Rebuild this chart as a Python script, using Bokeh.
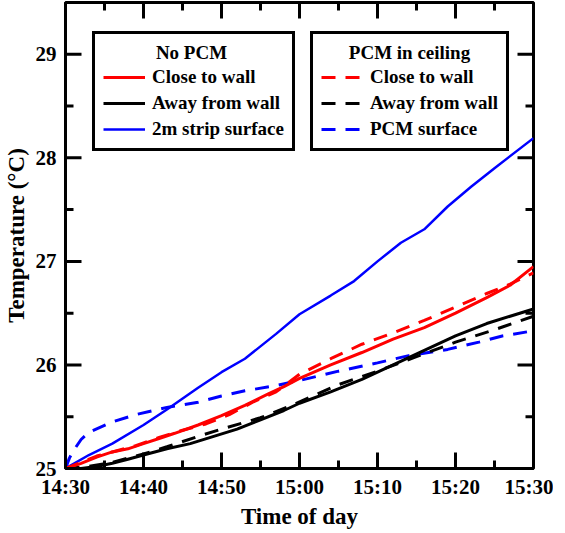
from bokeh.plotting import figure
from bokeh.models import Range1d, FixedTicker, Legend, LegendItem, Label
from bokeh.embed import file_html
from bokeh.resources import INLINE

# ---- data (minutes after 14:30, temperature in deg C) ----
tick_minutes = [0, 10, 20, 30, 40, 50, 60]
tick_labels = ["14:30", "14:40", "14:50", "15:00", "15:10", "15:20", "15:30"]
minor_minutes = [5, 15, 25, 35, 45, 55]
y_ticks = [25, 26, 27, 28, 29]
y_minor = [25.5, 26.5, 27.5, 28.5]

# No PCM
close_nopcm_t = [0, 2, 4, 6, 8, 10, 12, 14, 17, 20, 23, 26, 28, 30, 34, 38, 42, 46, 50, 54, 57, 60]
close_nopcm_v = [25.0, 25.05, 25.11, 25.16, 25.19, 25.24, 25.29, 25.34, 25.42, 25.51, 25.61, 25.72,
                 25.79, 25.87, 26.00, 26.12, 26.25, 26.36, 26.50, 26.65, 26.77, 26.95]
away_nopcm_t = [0, 2, 4, 6, 8, 10, 13, 16, 19, 22, 25, 28, 30, 34, 38, 42, 46, 50, 54, 57, 60]
away_nopcm_v = [25.0, 25.0, 25.02, 25.05, 25.09, 25.13, 25.19, 25.24, 25.31, 25.38, 25.47, 25.56,
                25.63, 25.74, 25.86, 26.00, 26.14, 26.28, 26.40, 26.47, 26.54]
strip_t = [0, 3, 6, 10, 13, 17, 20, 23, 27, 30, 34, 37, 40, 43, 46, 49, 52, 55, 60]
strip_v = [25.0, 25.13, 25.24, 25.42, 25.57, 25.78, 25.93, 26.06, 26.30, 26.49, 26.67, 26.81,
           27.00, 27.18, 27.31, 27.53, 27.72, 27.90, 28.19]

# PCM in ceiling
close_pcm_t = [0, 2, 4, 6, 9, 12, 15, 18, 21, 24, 27, 30, 34, 38, 42, 46, 50, 54, 57, 60]
close_pcm_v = [25.0, 25.06, 25.12, 25.16, 25.22, 25.30, 25.37, 25.43, 25.52, 25.64, 25.74, 25.91,
               26.06, 26.20, 26.31, 26.43, 26.56, 26.69, 26.78, 26.89]
away_pcm_t = [0, 3, 6, 10, 13, 17, 20, 25, 29, 32, 35, 40, 45, 50, 55, 60]
away_pcm_v = [25.0, 25.02, 25.06, 25.14, 25.21, 25.31, 25.38, 25.49, 25.61, 25.71, 25.81, 25.94,
              26.08, 26.22, 26.34, 26.47]
pcmsurf_t = [0, 0.5, 1, 2, 3, 6, 9, 13, 17, 20, 23, 27, 30, 35, 40, 44, 49, 53, 56, 60]
pcmsurf_v = [25.0, 25.1, 25.17, 25.28, 25.35, 25.45, 25.52, 25.59, 25.64, 25.70, 25.75, 25.80,
             25.85, 25.94, 26.02, 26.09, 26.15, 26.22, 26.28, 26.33]

legend_titles = ["No PCM", "PCM in ceiling"]
legend_labels = [["Close to wall", "Away from wall", "2m strip surface"],
                 ["Close to wall", "Away from wall", "PCM surface"]]

FONT = "Liberation Serif"
DASH = "14 10"
X_MIN, X_MAX = 0, 60
Y_MIN, Y_MAX = 25, 29.5
FRAME_W, FRAME_H = 468, 466
MAJOR_PX, MINOR_PX, TICK_W = 16, 8, 3

p = figure(frame_width=FRAME_W, frame_height=FRAME_H, output_backend="svg", toolbar_location=None,
           x_range=Range1d(X_MIN, X_MAX), y_range=Range1d(Y_MIN, Y_MAX),
           min_border_left=61, min_border_right=20, min_border_top=2, min_border_bottom=10)
p.background_fill_color = "white"
p.border_fill_color = "white"
p.grid.visible = False
p.outline_line_color = "black"
p.outline_line_width = 3


def style_axis(ax):
    ax.axis_line_width = 3
    ax.axis_line_color = "black"
    ax.major_tick_in = 0
    ax.major_tick_out = 0
    ax.minor_tick_in = 0
    ax.minor_tick_out = 0
    ax.major_label_text_font = FONT
    ax.major_label_text_font_style = "bold"
    ax.major_label_text_font_size = "21px"
    ax.major_label_text_color = "black"
    ax.axis_label_text_font = FONT
    ax.axis_label_text_font_style = "bold"
    ax.axis_label_text_font_size = "23px"
    ax.axis_label_text_color = "black"


xa = p.xaxis[0]
xa.ticker = FixedTicker(ticks=tick_minutes)
xa.major_label_overrides = {t: lab for t, lab in zip(tick_minutes, tick_labels)}
xa.axis_label = "Time of day"
style_axis(xa)
xa.major_label_standoff = 6
xa.axis_label_standoff = 2

ya = p.yaxis[0]
ya.ticker = FixedTicker(ticks=y_ticks)
ya.axis_label = "Temperature (°C)"
style_axis(ya)
ya.major_label_standoff = 9
ya.axis_label_standoff = 4

# inward tick marks: one continuous path running round the frame edge with a
# spike at every tick (lengths given in screen px, converted to data units)
sy = (Y_MAX - Y_MIN) / FRAME_H
sx = (X_MAX - X_MIN) / FRAME_W
xticks_all = sorted([(t, MAJOR_PX) for t in tick_minutes] + [(t, MINOR_PX) for t in minor_minutes])
yticks_all = sorted([(v, MAJOR_PX) for v in y_ticks] + [(v, MINOR_PX) for v in y_minor])
px_, py_ = [X_MIN], [Y_MIN]
for t, L in xticks_all:                       # bottom, left to right
    px_ += [t, t, t]
    py_ += [Y_MIN, Y_MIN + L * sy, Y_MIN]
px_ += [X_MAX]
py_ += [Y_MIN]
for v, L in yticks_all:                       # right, bottom to top
    px_ += [X_MAX, X_MAX - L * sx, X_MAX]
    py_ += [v, v, v]
px_ += [X_MAX]
py_ += [Y_MAX]
for t, L in reversed(xticks_all):             # top, right to left
    px_ += [t, t, t]
    py_ += [Y_MAX, Y_MAX - L * sy, Y_MAX]
px_ += [X_MIN]
py_ += [Y_MAX]
for v, L in reversed(yticks_all):             # left, top to bottom
    px_ += [X_MIN, X_MIN + L * sx, X_MIN]
    py_ += [v, v, v]
px_ += [X_MIN]
py_ += [Y_MIN]
p.line(px_, py_, line_color="black", line_width=TICK_W, line_join="bevel", line_cap="butt")

r_pcm_surf = p.line(pcmsurf_t, pcmsurf_v, line_color="#0000ff", line_width=3, line_dash=DASH)
r_strip = p.line(strip_t, strip_v, line_color="#0000ff", line_width=2.5)
r_away_pcm = p.line(away_pcm_t, away_pcm_v, line_color="black", line_width=3, line_dash=DASH)
r_away = p.line(away_nopcm_t, away_nopcm_v, line_color="black", line_width=3)
r_close_pcm = p.line(close_pcm_t, close_pcm_v, line_color="#ff0000", line_width=3, line_dash=DASH)
r_close = p.line(close_nopcm_t, close_nopcm_v, line_color="#ff0000", line_width=3)

# legend layout (screen px relative to the frame)
BOX_LEFT = [27, 245]
BOX_BOTTOM_FROM_TOP = 149
BOX_CENTER = [126, 344]
TITLE_FROM_TOP = 50


def make_legend(items, left):
    lg = Legend(items=items, location=(left, FRAME_H - BOX_BOTTOM_FROM_TOP), title=" ")
    lg.orientation = "vertical"
    lg.border_line_color = "black"
    lg.border_line_width = 3
    lg.border_line_alpha = 1
    lg.background_fill_alpha = 0
    lg.padding = 8
    lg.margin = 0
    lg.spacing = 4
    lg.glyph_width = 42
    lg.glyph_height = 20
    lg.label_height = 20
    lg.label_standoff = 7
    lg.label_text_font = FONT
    lg.label_text_font_style = "bold"
    lg.label_text_font_size = "19px"
    lg.label_text_color = "black"
    lg.title_text_font = FONT
    lg.title_text_font_style = "bold"
    lg.title_text_font_size = "19px"
    lg.title_standoff = 2
    return lg


groups = [[r_close, r_away, r_strip], [r_close_pcm, r_away_pcm, r_pcm_surf]]
for i in range(2):
    items = [LegendItem(label=lab, renderers=[r]) for lab, r in zip(legend_labels[i], groups[i])]
    p.add_layout(make_legend(items, BOX_LEFT[i]), "center")
    title = Label(x=X_MIN + BOX_CENTER[i] * (X_MAX - X_MIN) / FRAME_W,
                  y=Y_MAX - TITLE_FROM_TOP * (Y_MAX - Y_MIN) / FRAME_H,
                  text=legend_titles[i], text_align="center", text_baseline="middle",
                  text_font=FONT, text_font_style="bold", text_font_size="19px", text_color="black")
    p.add_layout(title)

open("out.html", "w").write(file_html(p, INLINE))
